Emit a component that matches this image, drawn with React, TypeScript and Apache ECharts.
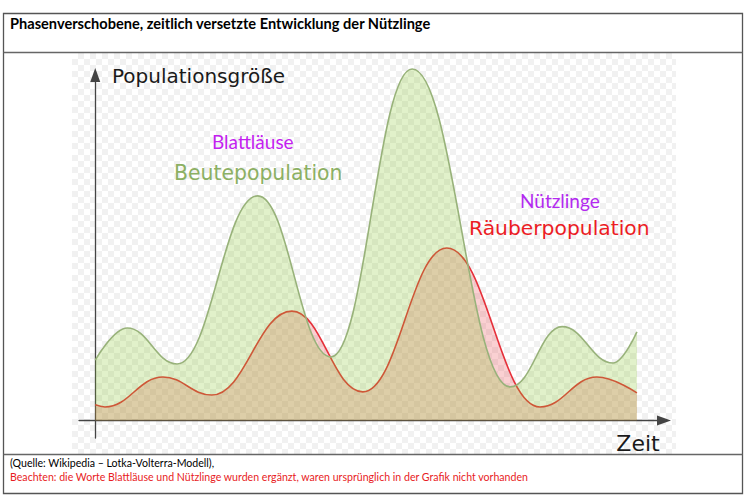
import React, { useEffect, useRef } from "react";
import * as echarts from "echarts";

// Prey (Beutepopulation): start, turning points and end
const preyTime = [0, 5.9, 15.1, 30.0, 43.5, 58.5, 76.6, 86.2, 95.6, 100];
const preyValues = [17.1, 26.2, 16.0, 63.7, 18.0, 99.7, 9.5, 26.6, 16.3, 25.1];

// Predator (Räuberpopulation)
const predTime = [0, 1.8, 12.5, 21.5, 36.3, 49.4, 64.9, 82.1, 92.6, 100];
const predValues = [4.4, 3.8, 12.3, 7.2, 31.0, 8.1, 48.9, 3.8, 12.3, 7.8];

const titleText = "Phasenverschobene, zeitlich versetzte Entwicklung der Nützlinge";
const yAxisName = "Populationsgröße";
const xAxisName = "Zeit";
const preyLabel = "Beutepopulation";
const preyNote = "Blattläuse";
const predLabel = "Räuberpopulation";
const predNote = "Nützlinge";
const sourceText = "(Quelle: Wikipedia – Lotka-Volterra-Modell),";
const noteText = "Beachten: die Worte Blattläuse und Nützlinge wurden ergänzt, waren ursprünglich in der Grafik nicht vorhanden";

const DEJAVU = "DejaVu Sans, sans-serif";
const CAL = "Lato, sans-serif";

export default function App() {
  const ref = useRef<HTMLDivElement>(null);

  useEffect(() => {
    if (!ref.current) return;
    const chart = echarts.init(ref.current, undefined, { renderer: "svg" });
    const preyData = preyTime.map((t, i) => [t, preyValues[i]]);
    const predData = predTime.map((t, i) => [t, predValues[i]]);

    chart.setOption({
      animation: false,
      backgroundColor: "transparent",
      grid: { left: 79, right: 84, top: 75, bottom: 62 },
      xAxis: {
        type: "value",
        min: -3,
        max: 105,
        axisLine: {
          onZero: true,
          symbol: ["none", "triangle"],
          symbolSize: [10, 14],
          lineStyle: { color: "#444", width: 1.3 },
        },
        axisTick: { show: false },
        axisLabel: { show: false },
        splitLine: { show: false },
      },
      yAxis: {
        type: "value",
        min: -5,
        max: 98,
        axisLine: {
          show: true,
          onZero: true,
          symbol: ["none", "triangle"],
          symbolSize: [10, 14],
          lineStyle: { color: "#444", width: 1.3 },
        },
        axisTick: { show: false },
        axisLabel: { show: false },
        splitLine: { show: false },
      },
      series: [
        {
          name: predLabel,
          type: "line",
          data: predData,
          smooth: 0.42,
          smoothMonotone: "x",
          showSymbol: false,
          clip: false,
          z: 2,
          lineStyle: { color: "#e6303a", width: 1.6 },
          areaStyle: { color: "rgba(235,60,70,0.35)" },
        },
        {
          name: preyLabel,
          type: "line",
          data: preyData,
          smooth: 0.42,
          smoothMonotone: "x",
          showSymbol: false,
          clip: false,
          z: 3,
          lineStyle: { color: "#98b27a", width: 1.6 },
          areaStyle: { color: "rgba(140,200,50,0.37)" },
        },
      ],
      graphic: [
        {
          type: "rect",
          shape: { x: 3.5, y: 13.5, width: 739, height: 480 },
          style: { fill: "none", stroke: "#555", lineWidth: 1.3 },
          z: 10,
        },
        {
          type: "line",
          shape: { x1: 3.5, y1: 52.5, x2: 742.5, y2: 52.5 },
          style: { stroke: "#666", lineWidth: 1.3 },
          z: 10,
        },
        {
          type: "line",
          shape: { x1: 3.5, y1: 454.5, x2: 742.5, y2: 454.5 },
          style: { stroke: "#666", lineWidth: 1.3 },
          z: 10,
        },
        {
          type: "text",
          style: { text: titleText, x: 10, y: 23, font: `bold 14.6px ${CAL}`, fill: "#000", textVerticalAlign: "middle" },
          z: 10,
        },
        {
          type: "text",
          style: { text: yAxisName, x: 112, y: 76, font: `20px ${DEJAVU}`, fill: "#1a1a1a", textVerticalAlign: "middle" },
          z: 10,
        },
        {
          type: "text",
          style: { text: xAxisName, x: 638, y: 443, font: `22px ${DEJAVU}`, fill: "#1a1a1a", textAlign: "center", textVerticalAlign: "middle" },
          z: 10,
        },
        {
          type: "text",
          style: { text: preyNote, x: 212, y: 141, font: `19px ${CAL}`, fill: "#c41ff0", textVerticalAlign: "middle" },
          z: 10,
        },
        {
          type: "text",
          style: { text: preyLabel, x: 174, y: 173, font: `20.4px ${DEJAVU}`, fill: "#8cb063", textVerticalAlign: "middle" },
          z: 10,
        },
        {
          type: "text",
          style: { text: predNote, x: 520, y: 200, font: `19px ${CAL}`, fill: "#b32af0", textVerticalAlign: "middle" },
          z: 10,
        },
        {
          type: "text",
          style: { text: predLabel, x: 469, y: 228, font: `20.3px ${DEJAVU}`, fill: "#ec1c24", textVerticalAlign: "middle" },
          z: 10,
        },
        {
          type: "text",
          style: { text: sourceText, x: 10, y: 463, font: `10.6px ${CAL}`, fill: "#000", textVerticalAlign: "middle" },
          z: 10,
        },
        {
          type: "text",
          style: { text: noteText, x: 10, y: 477, font: `10.6px ${CAL}`, fill: "#e81c24", textVerticalAlign: "middle" },
          z: 10,
        },
      ],
    });

    return () => chart.dispose();
  }, []);

  return (
    <div style={{ position: "absolute", left: 0, top: 0, width: 748, height: 500, background: "#fff" }}>
      <div
        style={{
          position: "absolute",
          left: 72,
          top: 53,
          width: 604,
          height: 401,
          background: "repeating-conic-gradient(#f1f1f1 0% 25%, #ffffff 0% 50%) 0 0 / 12px 12px",
        }}
      />
      <div ref={ref} style={{ position: "absolute", left: 0, top: 0, width: 748, height: 500 }} />
    </div>
  );
}
